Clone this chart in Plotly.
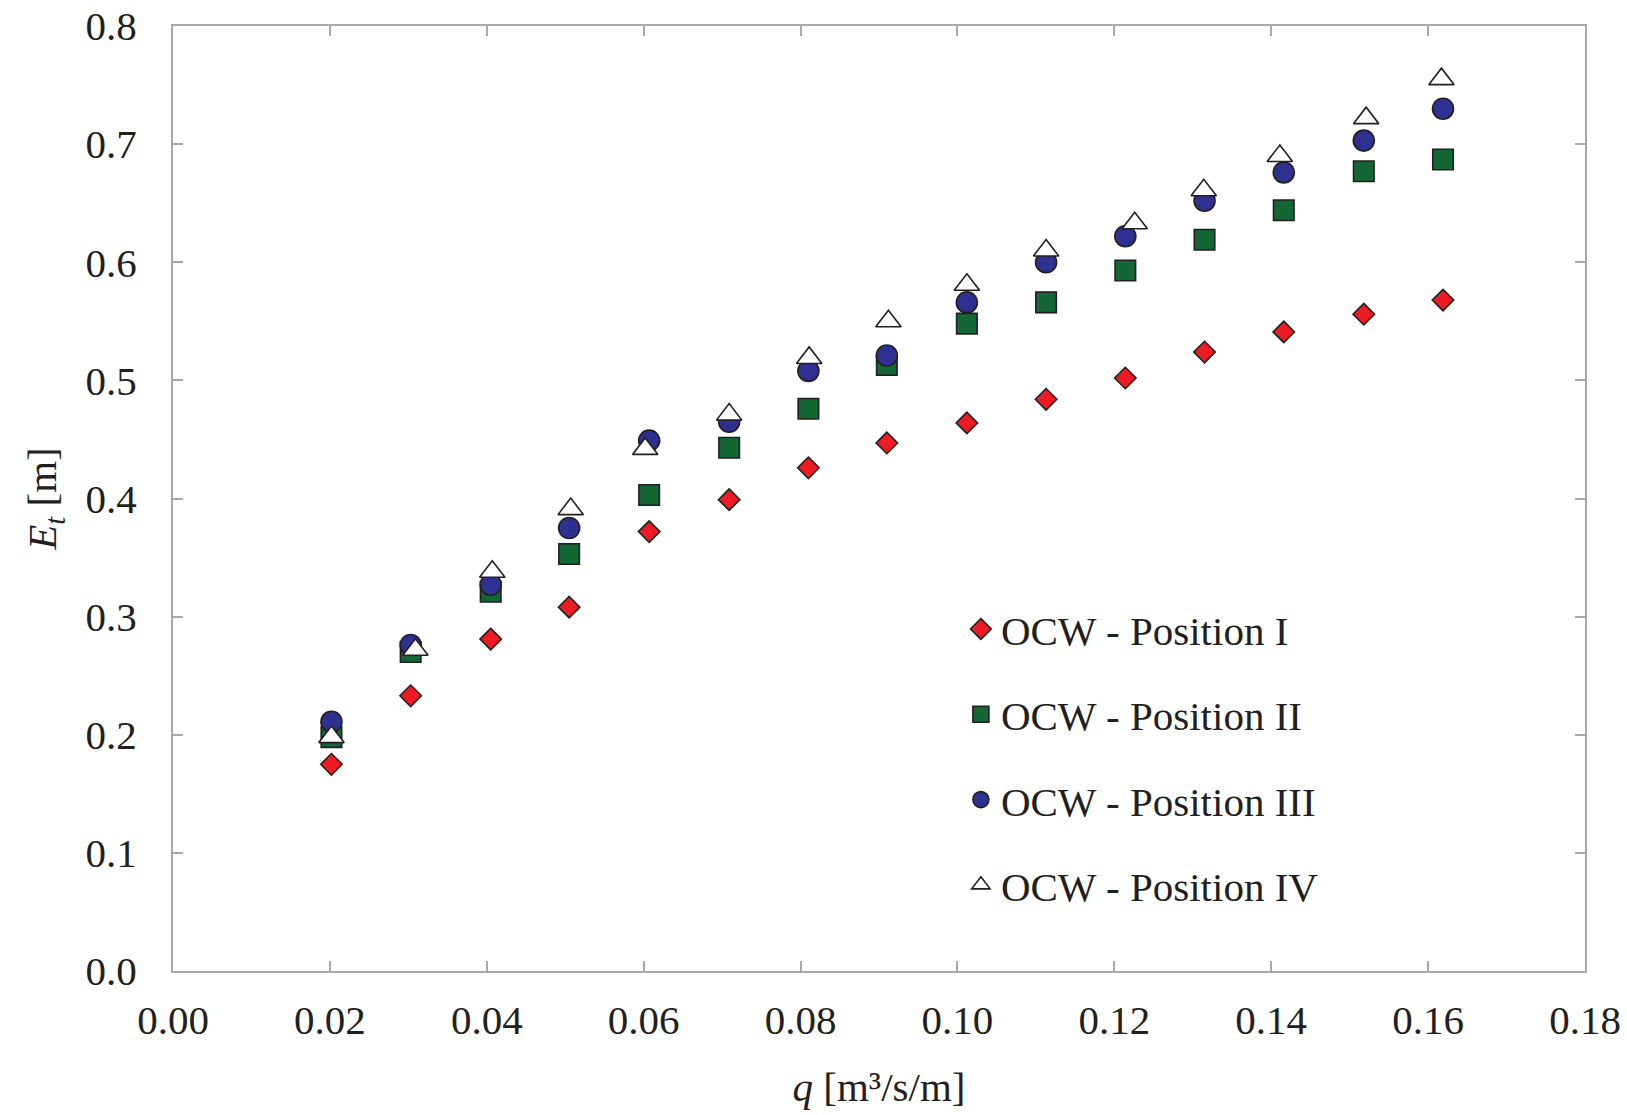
import plotly.graph_objects as go

q_I = [0.0202, 0.0303, 0.0405, 0.0505, 0.0607, 0.0709, 0.0810, 0.0910, 0.1012, 0.1113, 0.1214, 0.1315, 0.1416, 0.1518, 0.1619]
E_I = [0.175, 0.233, 0.281, 0.308, 0.372, 0.399, 0.426, 0.447, 0.464, 0.484, 0.502, 0.524, 0.541, 0.556, 0.568]

q_II = [0.0202, 0.0303, 0.0405, 0.0505, 0.0607, 0.0709, 0.0810, 0.0910, 0.1012, 0.1113, 0.1214, 0.1315, 0.1416, 0.1518, 0.1619]
E_II = [0.198, 0.270, 0.321, 0.353, 0.403, 0.443, 0.476, 0.513, 0.548, 0.566, 0.593, 0.619, 0.644, 0.677, 0.687]

q_III = [0.0202, 0.0303, 0.0405, 0.0505, 0.0607, 0.0709, 0.0810, 0.0910, 0.1012, 0.1113, 0.1214, 0.1315, 0.1416, 0.1518, 0.1619]
E_III = [0.211, 0.276, 0.327, 0.375, 0.449, 0.465, 0.508, 0.521, 0.566, 0.600, 0.622, 0.652, 0.676, 0.703, 0.730]

q_IV = [0.0202, 0.0309, 0.0407, 0.0507, 0.0602, 0.0709, 0.0811, 0.0912, 0.1012, 0.1113, 0.1226, 0.1314, 0.1411, 0.1521, 0.1617]
E_IV = [0.198, 0.272, 0.338, 0.391, 0.442, 0.471, 0.519, 0.550, 0.581, 0.610, 0.633, 0.661, 0.690, 0.722, 0.755]

names = ["OCW - Position I", "OCW - Position II", "OCW - Position III", "OCW - Position IV"]

TXT = "#231f20"
AX = "#a7a9ac"
FONT = "Liberation Serif, Times New Roman, serif"
FS = 41

fig = go.Figure()
series = [
    (q_I, E_I, "diamond", "#ed1c24", 16.5),
    (q_II, E_II, "square", "#136734", 20.5),
    (q_III, E_III, "circle", "#2e3192", 21),
    (q_IV, E_IV, "triangle-up", "#ffffff", 22),
]
for i, (x, y, sym, col, sz) in enumerate(series):
    fig.add_trace(go.Scatter(
        x=x, y=y, mode="markers", name=names[i], legendgroup=names[i],
        marker=dict(symbol=sym, color=col, size=sz, line=dict(color=TXT, width=1.6)),
    ))

fig.update_layout(
    width=1627, height=1115,
    margin=dict(l=173, r=42, t=26, b=144),
    paper_bgcolor="white", plot_bgcolor="white",
    font=dict(family=FONT, size=FS, color=TXT),
    showlegend=True,
    legend=dict(x=0.558, y=0.397, xanchor="left", yanchor="top",
                bgcolor="rgba(0,0,0,0)", tracegroupgap=29,
                font=dict(family=FONT, size=FS, color=TXT)),
    xaxis=dict(range=[0, 0.18], dtick=0.02, tick0=0, tickformat=".2f",
               showgrid=False, zeroline=False, showline=True, linecolor=AX, linewidth=2,
               mirror="ticks", ticks="inside", ticklen=10, tickwidth=2, tickcolor=AX,
               ticklabelstandoff=12, automargin=False,
               title=dict(text="<i>q</i> [m³/s/m]", standoff=30,
                          font=dict(family=FONT, size=FS, color=TXT))),
    yaxis=dict(range=[0, 0.8], dtick=0.1, tick0=0, tickformat=".1f",
               showgrid=False, zeroline=False, showline=True, linecolor=AX, linewidth=2,
               mirror="ticks", ticks="inside", ticklen=10, tickwidth=2, tickcolor=AX,
               ticklabelstandoff=26, automargin=False,
               title=dict(text="<i>E<sub>t</sub></i> [m]", standoff=16,
                          font=dict(family=FONT, size=FS, color=TXT))),
)

fig.write_html("out.html")
